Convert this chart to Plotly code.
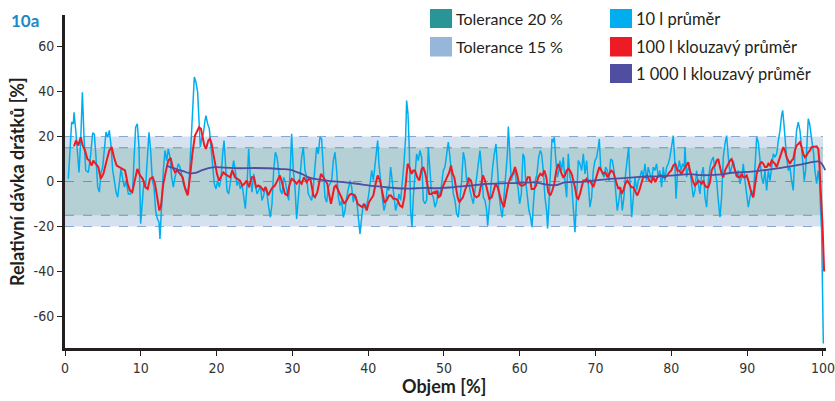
import plotly.graph_objects as go

# ---------------- data ----------------
tol_outer = 20
tol_inner = 15

cyan_x = [0.44,0.66,0.88,1.10,1.19,1.41,1.63,1.85,2.07,2.29,2.51,2.73,3.08,3.39,3.65,3.87,4.09,4.31,4.53,4.75,
          4.97,5.19,5.41,5.63,5.85,6.07,6.29,6.51,6.73,6.95,7.17,7.39,7.61,7.83,8.05,8.36,8.66,8.93,9.10,9.32,
          9.54,9.76,9.98,10.20,10.42,10.64,10.86,11.08,11.30,11.52,11.74,11.96,12.18,12.40,12.53,12.75,12.97,13.19,13.41,13.63,
          13.85,14.07,14.29,14.51,14.73,14.95,15.17,15.39,15.61,
          16.05,16.27,16.49,16.71,16.93,17.06,17.28,17.50,17.68,17.85,18.03,18.25,18.47,18.60,18.82,19.04,19.26,19.48,19.70,19.92,
          20.14,20.36,20.58,20.80,20.98,21.15,21.37,21.59,21.81,22.03,22.25,22.47,22.69,22.91,23.13,23.35,23.57,23.79,24.01,24.23,
          24.45,24.67,24.89,25.11,25.33,25.55,25.77,25.99,26.21,26.43,26.65,26.87,27.09,27.31,27.53,27.75,27.97,28.19,28.41,28.63,
          28.85,29.07,29.29,29.51,29.73,29.90,30.12,30.34,30.56,30.78,31.00,31.22,31.44,31.66,31.88,32.10,
          32.32,32.54,32.76,32.98,33.20,33.42,33.64,33.86,34.08,34.30,34.52,34.74,34.96,35.18,35.40,35.62,35.84,36.06,36.28,36.50,
          36.72,36.94,37.16,37.38,37.60,37.82,38.04,38.26,38.48,38.70,38.92,39.14,39.36,39.58,39.80,40.02,40.24,40.46,40.68,40.90,
          41.12,41.25,41.42,41.64,41.86,42.08,42.30,42.52,42.74,42.96,43.18,43.40,43.62,43.84,44.06,44.28,44.50,44.72,44.94,45.07,
          45.25,45.43,45.60,45.78,45.95,46.17,46.39,46.61,46.83,47.05,47.27,47.49,47.71,47.93,48.15,48.37,48.59,
          48.81,49.03,49.25,49.47,49.69,49.91,50.13,50.35,50.57,50.79,51.01,51.23,51.45,51.67,51.89,52.11,52.33,52.55,52.77,52.99,
          53.21,53.43,53.65,53.87,54.09,54.31,54.53,54.75,54.97,55.19,55.41,55.63,55.76,55.98,56.20,56.42,56.64,56.86,57.08,57.30,
          57.52,57.69,57.91,58.13,58.35,58.49,58.66,58.88,59.10,59.32,59.54,59.76,59.98,60.20,60.42,60.60,60.77,60.99,61.21,61.43,
          61.61,61.83,62.05,62.27,62.49,62.71,62.88,63.10,63.32,63.54,63.67,63.85,64.07,64.25,64.42,64.55,64.73,64.95,65.17,
          65.30,65.52,65.74,65.96,66.18,66.40,66.62,66.84,67.06,67.28,67.50,67.72,67.94,68.16,68.38,68.60,68.82,69.04,69.26,69.48,
          69.70,69.92,70.14,70.36,70.49,70.67,70.89,71.11,71.33,71.55,71.77,71.99,72.21,72.43,72.65,72.86,73.08,73.30,73.52,73.74,
          73.96,74.18,74.36,74.54,74.76,74.98,75.20,75.42,75.64,75.86,76.08,76.30,76.52,76.73,76.95,77.17,77.39,77.61,77.83,78.05,
          78.27,78.49,78.71,78.93,79.15,79.37,79.59,79.81,80.03,80.25,80.43,80.61,80.83,81.05,81.27,81.48,81.70,
          81.79,82.01,82.23,82.45,82.67,82.89,83.11,83.33,83.55,83.77,83.99,84.21,84.43,84.65,84.87,85.09,85.31,85.53,85.75,85.97,
          86.19,86.41,86.63,86.85,87.07,87.29,87.51,87.73,87.95,88.17,88.39,88.61,88.83,89.05,89.27,89.49,89.71,89.93,90.15,90.37,
          90.59,90.81,91.03,91.25,91.47,91.69,91.91,92.13,92.35,92.57,92.79,93.01,93.23,93.45,93.67,93.89,94.11,94.33,94.54,94.68,
          94.85,95.03,95.20,95.42,95.64,95.86,96.08,96.30,96.52,96.74,96.96,97.18,97.40,97.53,97.71,97.89,98.06,98.24,98.41,98.59,
          98.77,98.94,99.16,99.38,99.56,99.69,99.82,100.05]
cyan_y = [1.2,15,26.4,25.6,30.8,23,12,4,18,39.7,19.7,5,4,12,21.6,21,10.8,-2.5,-4.7,4,
          6.4,15,22,19.7,22.7,16,5,0.4,-4.7,-7,-1,5.6,1.2,-2.5,0.4,-5.5,-5.5,-3.3,9.3,24.1,
          25.6,15.3,-18.8,-9.2,0.4,-1.8,10,21.9,13.8,0.4,-2.5,-12.9,-16.6,-18,-25.5,-9.9,4.9,13.8,9.3,14.5,
          10.8,1.9,-2.5,1.9,4.9,7.9,6.4,3.4,-1,
          -4,-5.5,7.9,25.6,40.4,46.4,44.1,39.7,27.1,15.3,19,21.2,27.1,29.3,25.6,23.4,15.3,6.4,-1,-3.3,
          0.4,-2.5,1.2,12.3,18.2,9.3,-4,-5.5,-1,4.1,9.3,4.9,-1.8,0.4,-3.3,-1,-7,-12.1,-1.8,14.5,
          1.9,-4.7,3.4,-1,-5.5,-4,-1.8,-8.4,-6.2,-2.5,-5.5,-11.4,-15.9,-9.9,4.9,13,10.8,4.9,-4,-5.5,
          1.9,-0.3,-5.5,-8.4,6.4,21.2,4.9,-2.5,-16.6,-8.4,0.4,10.8,15.3,4.9,1.9,-5.5,
          -7,-8.4,-2.5,7.9,15.3,12.3,19.7,19,4.9,-7,-9.2,-2.5,-1,0.4,9.3,13,4.9,-7,-10.7,-8.4,
          -15.9,-12.9,-7,-2.5,0.4,-2.5,-9.2,-5.5,-8.4,-15.9,-23.3,-15.9,-9.9,-11.4,-10.7,-7,-1,4.9,0.4,6.4,
          12.3,18.2,7.9,-1,-7,-12.9,-9.9,-2.5,-4,6.4,-1,-8.4,-12.9,-9.9,-5.5,-8.4,-1,7.9,19.7,36,
          30.1,13.8,-12.9,-20.3,-7,4.9,12.3,9.3,13.8,10.8,-8.4,-9.9,-8.4,15.3,4.9,-5.5,-7,
          -11.4,-9.2,-4,-7,0.4,4.9,6.4,12.3,17.5,10.8,0.4,-5.5,-8.4,-14.4,-15.9,-8.4,0.4,13,9.3,0.4,
          1.9,-4,-7,-9.9,-4,1.9,9.3,13.8,4.9,-7,-8.4,-12.9,-19.6,-9.9,0.4,6.4,12.3,16.7,4.9,-7,
          -12.9,-15.9,-7,3.4,11.6,24.4,12.3,0.4,3.4,4.9,0.4,-2.5,-9.9,-5.5,12.3,10.8,0.4,-5.5,-12.9,-15.9,
          -20.3,-8.4,0.4,3.4,10.8,13.8,12.3,4.9,-7,-12.9,-20.9,-9.9,7.9,19,17.5,19.7,10.8,1.9,4.9,
          9.3,4.9,10.8,0.4,-7,12.3,1.9,-1,-9.9,-22.5,-7,9.3,7.9,4.9,12.3,3.4,9.3,0.4,-11.4,-7,
          4.9,9.3,10.8,15.3,19,6.4,3.4,1.9,6.4,4.9,0.4,10,9.3,4.9,-4,-12.9,-8.4,-2.5,-12.9,-7,
          3.4,10.8,15.3,0.4,-15.9,-7,1.9,-4,0.4,1.9,4.9,1.9,7.9,0.4,6.4,3.4,0.4,6.4,4.9,7.9,
          1.9,4.9,-2.5,6.4,0.4,6.4,7.9,10.8,16.7,20.4,10.8,-7.7,4.9,9.3,4.9,7.9,6.4,
          15.3,1.9,6.4,4.9,-1,-7,-4,4.9,-1,-5.5,3.4,6.4,-7,-11.4,0.4,6.4,9.3,10.8,4.9,0.4,
          -8.4,-15.9,-7,10.8,16.7,20.4,10.8,3.4,6.4,9.3,4.9,1.9,4.9,-1,1.9,7.9,0.4,-7,-11.4,-7,
          -4,-7,9.3,19.7,17.5,10.8,1.9,-1,4.9,-4,4.9,0.4,7.9,12.3,10.8,12.3,18.2,22.7,29.3,31.6,
          25.6,15.3,10.8,4.9,6.4,0.4,-4,12.3,22.7,26.4,22.7,15.3,4.9,0.4,4.9,19.7,27.9,25.6,21.2,15.3,
          12.3,4.9,-1,4.9,-1,-12.9,-21.8,-72]

red_x = [1.19,1.45,1.76,2.07,2.33,2.64,2.95,3.21,3.52,3.74,4.05,4.40,4.71,5.06,5.50,5.85,6.16,6.46,6.82,7.17,
         7.61,7.92,8.27,8.58,8.88,9.24,9.54,9.90,10.25,10.60,10.91,11.21,11.57,11.87,12.18,12.45,12.67,12.97,13.33,13.63,
         13.94,14.20,14.51,14.82,15.17,15.52,
         15.83,16.18,16.49,16.80,17.15,17.41,17.68,17.94,18.16,18.38,18.60,18.91,19.13,19.35,19.57,19.79,20.05,20.32,20.58,20.89,
         21.11,21.46,21.77,22.08,22.43,22.73,23.09,23.39,23.66,23.97,24.27,24.63,24.93,25.20,25.51,25.86,26.17,26.47,26.83,27.13,
         27.40,27.70,28.06,28.36,28.67,29.02,29.33,29.60,29.90,30.21,30.56,30.87,31.22,31.53,31.88,
         32.32,32.54,32.76,32.98,33.29,33.55,33.77,34.08,34.34,34.61,34.83,35.09,35.31,35.53,35.75,36.06,36.37,36.63,36.85,37.16,
         37.47,37.73,38.04,38.35,38.61,38.92,39.22,39.49,39.80,40.10,40.41,40.68,40.98,41.25,41.56,41.86,42.13,42.44,42.74,43.01,
         43.32,43.62,43.89,44.19,44.50,44.77,44.99,45.21,45.43,45.73,45.95,46.17,46.48,46.75,47.05,47.27,47.54,47.80,48.06,48.37,
         48.68,
         48.81,49.03,49.25,49.56,49.82,50.13,50.44,50.70,50.92,51.14,51.36,51.58,51.80,52.02,52.24,52.50,52.77,53.03,53.30,53.56,
         53.78,54.00,54.31,54.62,54.88,55.14,55.41,55.71,55.98,56.29,56.55,56.81,57.08,57.30,57.61,57.91,58.18,58.49,58.79,59.10,
         59.37,59.63,59.89,60.16,60.46,60.77,61.04,61.30,61.56,61.87,62.14,62.44,62.71,62.97,63.24,63.50,63.76,64.03,64.29,64.55,
         64.82,65.08,
         65.52,65.74,65.96,66.18,66.40,66.62,66.84,67.06,67.28,67.50,67.72,67.94,68.16,68.38,68.60,68.82,69.04,69.26,69.48,69.70,
         69.96,70.23,70.49,70.75,71.02,71.28,71.55,71.81,72.07,72.34,72.56,72.78,73.00,73.22,73.44,73.66,73.92,74.19,74.45,74.71,
         74.98,75.24,75.50,75.77,76.03,76.30,76.56,76.82,77.09,77.35,77.61,77.88,78.14,78.41,78.67,78.93,79.20,79.46,79.73,79.99,
         80.25,80.52,80.78,81.04,81.31,81.57,
         82.01,82.23,82.45,82.67,82.89,83.11,83.33,83.55,83.77,83.99,84.21,84.43,84.65,84.87,85.09,85.31,85.53,85.75,85.97,86.19,
         86.41,86.63,86.85,87.07,87.29,87.51,87.73,87.95,88.17,88.39,88.61,88.83,89.05,89.27,89.49,89.71,89.93,90.15,90.37,90.59,
         90.81,91.03,91.25,91.47,91.69,91.91,92.13,92.35,92.57,92.79,93.01,93.23,93.45,93.67,93.89,94.11,94.33,94.55,94.77,94.98,
         95.20,95.42,95.64,95.86,96.08,96.30,96.52,96.74,96.96,97.18,97.40,97.62,97.84,98.06,98.28,98.50,98.72,98.94,99.16,99.38,
         99.51,99.70,99.95,100.15]
red_y = [15.6,18.2,16,19.7,16,13.8,10,9.3,7.1,9.3,7.9,6.4,1.2,3.4,9.3,13.8,15.3,10.8,7.1,6.4,
         5.6,4.9,-1,-4,-4.7,1.9,5.6,2.7,1.2,-2.5,-3.3,1.2,1.9,-1,-7.7,-12.9,-10.7,-1,4.9,9.3,
         10.5,6.4,4.1,4.9,3.4,1.9,
         -3,-6.2,1.9,12.3,20.4,21.9,24.1,23.4,19.7,16,14.5,18.2,19,16.7,12.3,7.9,3.4,0.4,1.9,4.1,
         3.4,2.7,1.9,4.9,1.9,1.2,0.4,-1.8,-1,0.4,-2.5,1.9,1.9,-2.5,-1.8,-2.5,-4,-2.5,-6.2,-4,
         -2.5,-1.8,0.4,2.7,-1,-5.5,-6.2,-1.8,1.2,0.4,-1,0.4,-1,1.9,-0.3,
         1.9,-1.8,-6.2,-7,-4.7,-0.3,3.4,1.9,0.4,-1,-5.5,-9.9,-6.2,-2.5,-1.8,-4,-6.2,-8.4,-9.9,-8.4,
         -6.2,-5.5,-5.8,-7,-9.9,-10.7,-11.4,-9.9,-12.9,-9.2,-7.7,-6.2,-1,2.7,0.4,-4,-9.2,-8.4,-6.2,-6.2,
         -7.7,-7.7,-8.4,-10.7,-11.4,-7,1.9,7.9,6.4,3.4,4.9,4.9,1.9,0.4,5.6,6.4,3.4,-1,-5.5,-5.5,
         -4.7,
         -5.5,-4,-7,-6.2,-2.5,-0.3,1.9,4.1,7.1,3.4,1.9,-2.5,-7,-9.2,-8.4,-7,-4,-1,1.2,0.4,
         -3.3,-6.2,-7,-6.2,-1.8,2.7,0.4,-4,-7.7,-7,-3.3,-1,-2.5,-5.5,-9.2,-11.4,-7,-1,1.9,3.4,
         6.4,3.4,-1,-1.8,-1.8,-1,1.9,1.9,-3.3,-3.3,-1.8,1.9,3.4,2.7,4.9,1.9,-4.7,-6.2,-4,-1,
         4.9,7.9,
         3.4,1.9,2.7,4.9,5.6,4.9,3.4,0.4,-2.5,-7,-7.7,-5.5,-1.8,0.4,0.4,1.2,-0.3,0.4,-1,-2.5,
         0.4,4.1,6.4,4.9,3.4,4.1,1.9,3.4,4.9,4.1,1.9,-1,-3.3,-2.5,-5.5,-4,-1,0.4,-1,-2.5,
         -2.5,-4.7,-6.2,-4,-1,2.2,1.9,2.7,0.4,-0.3,1.9,-0.3,1.9,2.7,2.7,1.9,1.9,2.7,4.1,4.9,
         7.1,7.9,4.9,4.9,3.4,4.9,
         7.9,8.6,4.9,1.9,-0.3,-1.8,-1,0.4,-0.3,-1,0.4,-1.8,-2.5,-2.5,-0.3,4.9,6.4,7.1,9.3,10,
         6.4,3.4,1.9,4.9,6.4,7.9,9.3,10,7.9,4.9,2.7,1.9,1.9,3.4,1.9,1.9,2.7,0.4,-2.5,-5.5,
         -7,-2.5,3.4,5.6,7.9,8.6,7.9,6.4,6.4,7.9,7.1,9.3,8.6,7.9,6.4,8.6,10.8,13.8,15.3,13.8,
         10.8,9.3,7.9,9.3,10,13.8,16,16.7,17.5,15.3,12.3,10.8,11.6,13,13.8,15.3,15.3,15.3,15.6,14.5,
         9.3,-4,-20,-40]

purple_x = [13.4,14.0,14.8,15.6,16.4,17.2,18.2,19.5,21,23,25,27,28.5,29.7,30.5,31.3,32.3,33.5,35,36.7,
            38.5,40.2,42,43.8,45.5,47.3,49,51,53.2,55.4,57.6,59.8,62,63.8,64.8,65.9,67.5,69.7,71.9,74.1,
            76.3,78.5,80.7,82.4,84,86.2,88.4,90.6,92.8,94.5,95.9,97.2,98.5,99.4,99.8,100.3]
purple_y = [6.8,6.3,5.4,4.6,3.7,3.8,5.2,6.3,6.2,5.9,6.0,5.9,5.5,5.3,4.3,3.3,1.6,0.9,0.2,-0.3,
            -1.0,-1.8,-2.4,-3.0,-3.2,-2.8,-3.0,-2.6,-1.9,-1.1,-0.8,-0.7,-0.4,-1.5,-1.6,-0.4,-0.3,0.4,1.2,1.6,
            2.2,2.3,2.8,3.3,2.8,3.1,4.0,4.4,5.3,6.1,6.8,7.6,8.6,8.9,8.1,5.0]

x_ticks = [0, 10, 20, 30, 40, 50, 60, 70, 80, 90, 100]
y_ticks = [-60, -40, -20, 0, 20, 40, 60]
y_ticklabels = ["-60", "-40", "-20", "0", "20", "40", "60"]

legend_left = ["Tolerance 20 %", "Tolerance 15 %"]
legend_right = ["10 l průměr", "100 l klouzavý průměr", "1 000 l klouzavý průměr"]

# ---------------- style ----------------
C_CYAN = "#00aeef"
C_RED = "#ed1c24"
C_PURPLE = "#4f4ea1"
C_TEAL = "#2a9597"
C_LBLUE = "#97b7da"
BAND_OUT = "#d6e1f0"
BAND_IN = "#b5d0d4"
TXT = "#231f20"
TICKFONT = "Liberation Sans Narrow, DejaVu Sans Condensed, sans-serif"
LABFONT = "Lato, Open Sans, sans-serif"

W, H = 835, 401
ML, MR, MT, MB = 65, 9, 15, 53
PW = W - ML - MR
PH = H - MT - MB


def px(xp):
    return (xp - ML) / PW


def py(yp):
    return (H - MB - yp) / PH


fig = go.Figure()

fig.add_trace(go.Scatter(x=cyan_x, y=cyan_y, mode="lines",
                         line=dict(color=C_CYAN, width=1.5), showlegend=False, hoverinfo="skip"))
fig.add_trace(go.Scatter(x=red_x, y=red_y, mode="lines",
                         line=dict(color=C_RED, width=2), showlegend=False, hoverinfo="skip"))
fig.add_trace(go.Scatter(x=purple_x, y=purple_y, mode="lines", line_shape="spline",
                         line=dict(color=C_PURPLE, width=1.8), showlegend=False, hoverinfo="skip"))

shapes = []
# tolerance bands
shapes.append(dict(type="rect", xref="x", yref="y", x0=0, x1=100, y0=-tol_outer, y1=tol_outer,
                   fillcolor=BAND_OUT, line=dict(width=0), layer="below"))
shapes.append(dict(type="rect", xref="x", yref="y", x0=0, x1=100, y0=-tol_inner, y1=tol_inner,
                   fillcolor=BAND_IN, line=dict(width=0), layer="below"))
for v in (tol_outer, -tol_outer):
    shapes.append(dict(type="line", xref="x", yref="y", x0=0, x1=100, y0=v, y1=v,
                       line=dict(color="#86a7d6", width=1.2, dash="dash"), layer="below"))
for v in (tol_inner, -tol_inner, 0):
    shapes.append(dict(type="line", xref="x", yref="y", x0=0, x1=100, y0=v, y1=v,
                       line=dict(color="#5e9ea2", width=1.2, dash="dash"), layer="below"))

annotations = []
# legend
left_cols = [C_TEAL, C_LBLUE]
right_cols = [C_CYAN, C_RED, C_PURPLE]
rows = [(9, 28), (37, 56.5), (64, 83)]
for i, (lab, col) in enumerate(zip(legend_left, left_cols)):
    y0, y1 = rows[i]
    shapes.append(dict(type="rect", xref="paper", yref="paper", x0=px(430), x1=px(452),
                       y0=py(y1), y1=py(y0), fillcolor=col, line=dict(width=0)))
    annotations.append(dict(text=lab, xref="paper", yref="paper", x=px(454), y=py((y0 + y1) / 2),
                            xanchor="left", yanchor="middle", showarrow=False,
                            font=dict(family=LABFONT, size=16, color=TXT)))
for i, (lab, col) in enumerate(zip(legend_right, right_cols)):
    y0, y1 = rows[i]
    shapes.append(dict(type="rect", xref="paper", yref="paper", x0=px(610), x1=px(632),
                       y0=py(y1), y1=py(y0), fillcolor=col, line=dict(width=0)))
    annotations.append(dict(text=lab, xref="paper", yref="paper", x=px(634), y=py((y0 + y1) / 2),
                            xanchor="left", yanchor="middle", showarrow=False,
                            font=dict(family=LABFONT, size=16.5, color=TXT)))

annotations.append(dict(text="<b>10a</b>", xref="paper", yref="paper", x=px(9), y=py(20),
                        xanchor="left", yanchor="middle", showarrow=False,
                        font=dict(family=LABFONT, size=17, color="#1b8ac7")))
annotations.append(dict(text="<b>Relativní dávka drátků [%]</b>", xref="paper", yref="paper",
                        x=px(17), y=py(182), xanchor="center", yanchor="middle", textangle=-90,
                        showarrow=False, font=dict(family=LABFONT, size=18, color=TXT)))
annotations.append(dict(text="<b>Objem [%]</b>", xref="paper", yref="paper",
                        x=px(444), y=py(386), xanchor="center", yanchor="middle",
                        showarrow=False, font=dict(family=LABFONT, size=18, color=TXT)))

fig.update_layout(
    width=W, height=H,
    margin=dict(l=ML, r=MR, t=MT, b=MB, autoexpand=False),
    paper_bgcolor="white", plot_bgcolor="white",
    shapes=shapes, annotations=annotations,
    showlegend=False,
    xaxis=dict(range=[0, 100.4], tickvals=x_ticks, showgrid=False, zeroline=False, automargin=False,
               showline=True, linecolor="#231f20", linewidth=3,
               ticks="outside", ticklen=5, tickwidth=1, tickcolor="#231f20",
               tickfont=dict(family=TICKFONT, size=14, color="#333333")),
    yaxis=dict(range=[-74, 74], tickvals=y_ticks, ticktext=y_ticklabels, showgrid=False, zeroline=False,
               automargin=False,
               showline=True, linecolor="#231f20", linewidth=3,
               ticks="outside", ticklen=5, tickwidth=1, tickcolor="#231f20",
               tickfont=dict(family=TICKFONT, size=14, color="#333333")),
)

fig.write_html("out.html",
               config={"displayModeBar": False},
               post_script="document.body.style.margin='0';document.body.style.padding='0';"
                           "document.body.style.overflow='hidden';")
